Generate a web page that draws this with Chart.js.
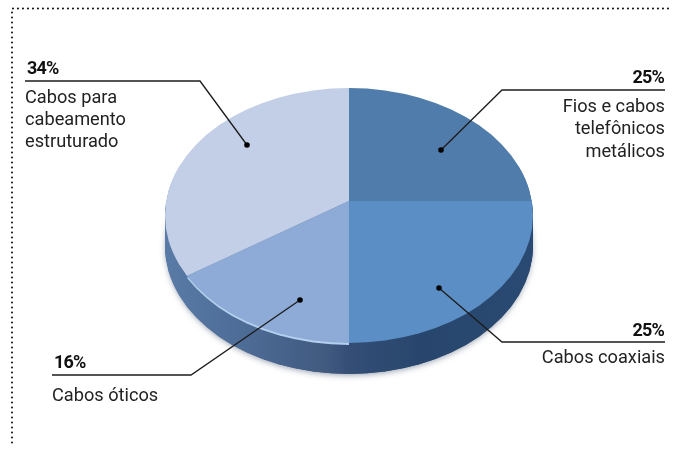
<!DOCTYPE html>
<html>
<head>
<meta charset="utf-8">
<style>
html, body { margin: 0; padding: 0; background: #fff; }
#wrap { width: 677px; height: 450px; position: relative; }
</style>
<script src="https://cdn.jsdelivr.net/npm/chart.js@4"></script>
</head>
<body>
<div id="wrap"><canvas id="c" width="677" height="450"></canvas></div>
<script>
var categories = ["Fios e cabos telefônicos metálicos", "Cabos coaxiais", "Cabos óticos", "Cabos para cabeamento estruturado"];
var values = [25, 25, 16, 34];
var sliceColors = ["#4f7cab", "#5b8ec4", "#8dabd6", "#c3cfe6"];

// outline of the tilted disc (the wedges are clipped to it)
var disc = { x: 349, y: 215.5, rx: 184, ry: 127.5, depth: 32 };
var tiltX = 1.3, tiltY = 0.947;

// text and leader lines, [line end x, line y, elbow x, dot x, dot y]
var callouts = [
	{ pct: "34%", lines: ["Cabos para", "cabeamento", "estruturado"], align: "left", x: 25, pctY: 74, textY: [103, 125, 147], path: [25, 81, 200, 247, 145] },
	{ pct: "25%", lines: ["Fios e cabos", "telefônicos", "metálicos"], align: "right", x: 665, pctY: 83, textY: [112, 134, 157], path: [665, 90, 502, 441, 150] },
	{ pct: "25%", lines: ["Cabos coaxiais"], align: "right", x: 665, pctY: 336, textY: [363], path: [665, 342, 502, 439, 288] },
	{ pct: "16%", lines: ["Cabos óticos"], align: "left", x: 52, pctY: 368, textY: [401], path: [52, 375, 191, 300, 300] }
];

function drawArcs(chart, arcs, off, color) {
	var ctx = chart.ctx;
	var a0 = chart.getDatasetMeta(0).data[0];
	ctx.save();
	ctx.beginPath();
	ctx.ellipse(disc.x, disc.y + off, disc.rx, disc.ry, 0, 0, Math.PI * 2);
	ctx.clip();
	ctx.translate(a0.x, a0.y + off);
	ctx.scale(tiltX, tiltY);
	ctx.translate(-a0.x, -a0.y);
	arcs.forEach(function (arc) {
		var saved = arc.options;
		if (color) arc.options = Object.assign({}, saved, { backgroundColor: color });
		arc.draw(ctx);
		arc.options = saved;
	});
	ctx.restore();
}

var tiltedPie = {
	id: "tiltedPie",
	beforeDatasetsDraw: function (chart) {
		var ctx = chart.ctx;
		var arcs = chart.getDatasetMeta(0).data;
		var g = ctx.createLinearGradient(disc.x - disc.rx, 0, disc.x + disc.rx, 0);
		g.addColorStop(0, "#b4bbce");
		g.addColorStop(0.06, "#7f8aa8");
		g.addColorStop(0.065, "#5c7fa9");
		g.addColorStop(0.25, "#4f6f9a");
		g.addColorStop(0.45, "#415a80");
		g.addColorStop(0.5, "#344e76");
		g.addColorStop(0.65, "#28466d");
		g.addColorStop(0.9, "#2a4a73");
		g.addColorStop(1, "#3a6090");

		// soft edge under the rim
		ctx.save();
		ctx.shadowColor = "rgba(70,85,110,0.6)";
		ctx.shadowBlur = 6;
		ctx.shadowOffsetY = 1;
		ctx.fillStyle = "#3a5478";
		ctx.beginPath();
		ctx.ellipse(disc.x, disc.y + disc.depth - 1, disc.rx - 1, disc.ry, 0, 0, Math.PI * 2);
		ctx.fill();
		ctx.restore();

		for (var off = disc.depth - 1; off >= 1; off--) drawArcs(chart, arcs, off, g);
		// light lip on the optical slice
		drawArcs(chart, [arcs[2]], 2, "#b4d0ee");
		drawArcs(chart, arcs, 0);
		return false;
	},
	afterDraw: function (chart) {
		var ctx = chart.ctx;
		ctx.save();
		// dotted frame
		ctx.strokeStyle = "#111";
		ctx.lineWidth = 2;
		ctx.lineCap = "round";
		ctx.setLineDash([0.1, 4.9]);
		ctx.beginPath();
		ctx.moveTo(668, 8.5);
		ctx.lineTo(12, 8.5);
		ctx.lineTo(12, 446);
		ctx.stroke();
		ctx.setLineDash([]);
		ctx.lineCap = "butt";

		callouts.forEach(function (c) {
			var p = c.path;
			ctx.strokeStyle = "#1c1c1c";
			ctx.lineWidth = 1.3;
			ctx.beginPath();
			ctx.moveTo(p[0], p[1]);
			ctx.lineTo(p[2], p[1]);
			ctx.lineTo(p[3], p[4]);
			ctx.stroke();
			ctx.fillStyle = "#000";
			ctx.beginPath();
			ctx.arc(p[3], p[4], 2.8, 0, Math.PI * 2);
			ctx.fill();

			ctx.textAlign = c.align;
			ctx.textBaseline = "alphabetic";
			ctx.fillStyle = "#111";
			ctx.font = "bold 18px Roboto";
			ctx.letterSpacing = "-0.8px";
			ctx.fillText(c.pct, c.x + (c.align == "left" ? 2 : -1), c.pctY);
			ctx.fillStyle = "#222";
			ctx.font = "18.2px Roboto";
			ctx.letterSpacing = "0px";
			c.lines.forEach(function (t, i) {
				ctx.fillText(t, c.x, c.textY[i]);
			});
		});
		ctx.restore();
	}
};

new Chart(document.getElementById("c"), {
	type: "pie",
	data: {
		labels: categories,
		datasets: [{ data: values, backgroundColor: sliceColors, borderWidth: 0 }]
	},
	options: {
		responsive: false,
		animation: false,
		layout: { padding: { left: 165, right: 144, top: 17, bottom: 65 } },
		plugins: { legend: { display: false }, tooltip: { enabled: false } }
	},
	plugins: [tiltedPie]
});
</script>
</body>
</html>
